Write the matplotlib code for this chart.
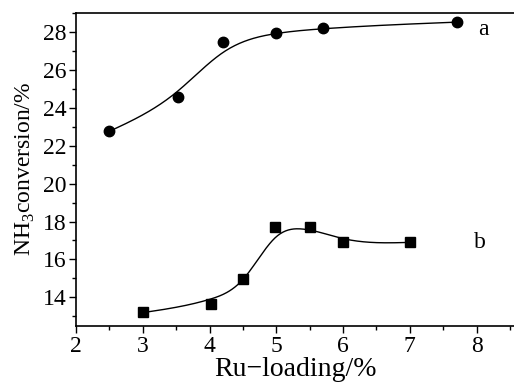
import numpy as np
import matplotlib
matplotlib.use('Agg')
import matplotlib.pyplot as plt
from matplotlib.ticker import MultipleLocator

# measured points
x_a = [2.5, 3.52, 4.2, 5.0, 5.7, 7.7]
y_a = [22.75, 24.55, 27.45, 27.95, 28.2, 28.5]
x_b = [3.0, 4.02, 4.5, 4.98, 5.5, 6.0, 7.0]
y_b = [13.25, 13.65, 14.95, 17.7, 17.7, 16.9, 16.9]

# smoothed trend curves
fit_xa = [2.5, 3.5, 4.2, 5.0, 5.7, 7.7]
fit_ya = [22.75, 24.8, 26.9, 27.9, 28.15, 28.5]
fit_xb = [3.0, 4.0, 4.5, 5.0, 5.4, 6.0, 7.0]
fit_yb = [13.2, 13.9, 14.95, 17.2, 17.6, 17.1, 16.9]


def natural_spline(x, y, n=300):
    x = np.asarray(x, float)
    y = np.asarray(y, float)
    k = len(x)
    h = np.diff(x)
    A = np.zeros((k, k))
    r = np.zeros(k)
    A[0, 0] = A[-1, -1] = 1
    for i in range(1, k - 1):
        A[i, i - 1] = h[i - 1]
        A[i, i] = 2 * (h[i - 1] + h[i])
        A[i, i + 1] = h[i]
        r[i] = 3 * ((y[i + 1] - y[i]) / h[i] - (y[i] - y[i - 1]) / h[i - 1])
    c = np.linalg.solve(A, r)
    b = (np.diff(y) / h) - h * (2 * c[:-1] + c[1:]) / 3
    d = np.diff(c) / (3 * h)
    xs = np.linspace(x[0], x[-1], n)
    idx = np.clip(np.searchsorted(x, xs) - 1, 0, k - 2)
    t = xs - x[idx]
    ys = y[idx] + b[idx] * t + c[idx] * t ** 2 + d[idx] * t ** 3
    return xs, ys


plt.rcParams['font.family'] = 'Liberation Serif'
plt.rcParams['mathtext.fontset'] = 'custom'
plt.rcParams['mathtext.rm'] = 'Liberation Serif'

fig = plt.figure(figsize=(5.14, 3.83), dpi=100)
ax = fig.add_axes([0.148, 0.149, 0.852, 0.818])

xs, ys = natural_spline(fit_xa, fit_ya)
ax.plot(xs, ys, color='black', lw=1.0)
ax.plot(x_a, y_a, 'o', color='black', ms=7.5)

xs, ys = natural_spline(fit_xb, fit_yb)
ax.plot(xs, ys, color='black', lw=1.0)
ax.plot(x_b, y_b, 's', color='black', ms=7)

ax.text(8.1, 28.1, 'a', fontsize=17, ha='center', va='center')
ax.text(8.05, 16.9, 'b', fontsize=17, ha='center', va='center')

ax.set_xlim(2, 8.56)
ax.set_ylim(12.5, 29)
ax.xaxis.set_major_locator(MultipleLocator(1))
ax.xaxis.set_minor_locator(MultipleLocator(0.5))
ax.yaxis.set_major_locator(MultipleLocator(2))
ax.yaxis.set_minor_locator(MultipleLocator(1))
ax.set_yticks([14, 16, 18, 20, 22, 24, 26, 28])
ax.tick_params(which='both', direction='out', labelsize=17, width=1, pad=2)
ax.tick_params(which='major', length=5)
ax.tick_params(which='minor', length=3)
ax.spines['right'].set_visible(False)
for s in ['left', 'bottom', 'top']:
    ax.spines[s].set_linewidth(1.2)

ax.set_xlabel('Ru\u2212loading/%', fontsize=20, labelpad=0)
ax.set_ylabel('NH$_3$conversion/%', fontsize=17, labelpad=4)

fig.savefig('out.png', dpi=100)
